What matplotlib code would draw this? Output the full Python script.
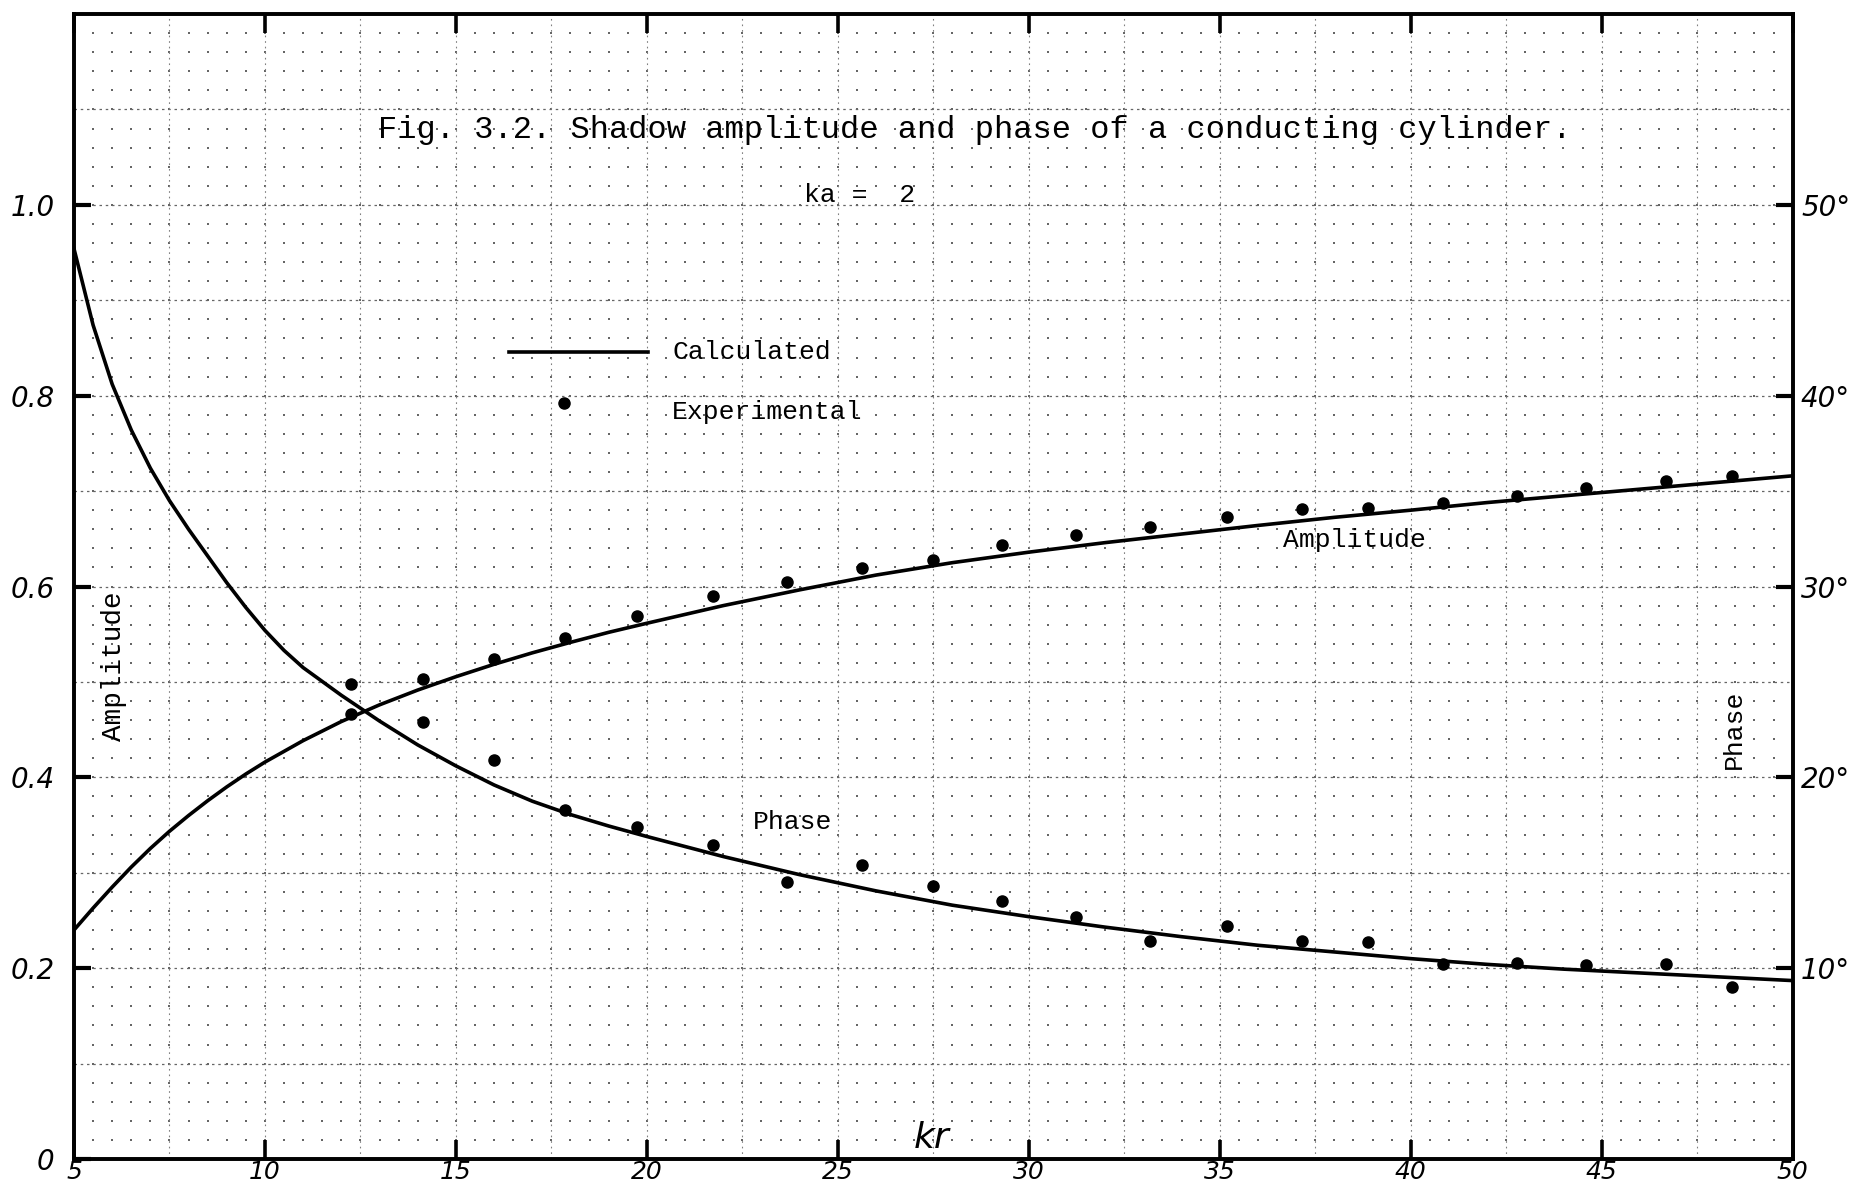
import numpy as np
import matplotlib
matplotlib.use("Agg")
import matplotlib.pyplot as plt

# calculated curves: amplitude and phase (degrees) against kr
kr_amp = [5, 5.5, 6, 6.5, 7, 7.5, 8, 8.5, 9, 9.5, 10, 11, 12, 13, 14, 15, 16,
          17, 18, 19, 20, 22, 24, 26, 28, 30, 32, 34, 36, 38, 40, 42, 44, 46,
          48, 50]
amp_calc = [0.240, 0.263, 0.285, 0.306, 0.3255, 0.3435, 0.360, 0.3755, 0.390,
            0.4035, 0.416, 0.4385, 0.4585, 0.476, 0.4915, 0.5055, 0.5185,
            0.5305, 0.5415, 0.552, 0.5615, 0.580, 0.5965, 0.612, 0.625, 0.636,
            0.646, 0.655, 0.664, 0.6725, 0.680, 0.688, 0.695, 0.702, 0.709,
            0.716]

kr_phase = [5, 5.5, 6, 6.5, 7, 7.5, 8, 8.5, 9, 9.5, 10, 10.5, 11, 12, 13, 14,
            15, 16, 17, 18, 19, 20, 22, 24, 26, 28, 30, 32, 34, 36, 38, 40, 42,
            44, 46, 48, 50]
phase_calc = [47.7, 43.7, 40.6, 38.2, 36.2, 34.5, 33.0, 31.6, 30.2, 28.9,
              27.7, 26.65, 25.75, 24.3, 22.95, 21.7, 20.6, 19.6, 18.75, 18.05,
              17.45, 16.9, 15.85, 14.9, 14.05, 13.3, 12.7, 12.15, 11.65, 11.2,
              10.85, 10.5, 10.2, 9.95, 9.75, 9.55, 9.35]

# experimental points
kr_exp = [12.26, 14.15, 16.0, 17.86, 19.75, 21.73, 23.66, 25.63, 27.49, 29.29,
          31.24, 33.18, 35.18, 37.16, 38.87, 40.84, 42.78, 44.58, 46.68, 48.41]
amp_exp = [0.4665, 0.5028, 0.5237, 0.5458, 0.5693, 0.590, 0.605, 0.6198,
           0.628, 0.643, 0.6535, 0.6628, 0.6729, 0.681, 0.6822, 0.6878,
           0.6953, 0.7028, 0.7103, 0.716]
phase_exp = [24.9, 22.9, 20.9, 18.3, 17.4, 16.45, 14.5, 15.4, 14.3, 13.5,
             12.7, 11.4, 12.2, 11.45, 11.35, 10.2, 10.25, 10.15, 10.2, 9.0]

x_ticks = [5, 10, 15, 20, 25, 30, 35, 40, 45, 50]
amp_ticks = [0, 0.2, 0.4, 0.6, 0.8, 1.0]
amp_labels = ["0", "0.2", "0.4", "0.6", "0.8", "1.0"]
phase_ticks = [10, 20, 30, 40, 50]
phase_labels = ["10°", "20°", "30°", "40°", "50°"]

mono = "Liberation Mono"
hand = {"family": "DejaVu Sans", "style": "italic"}

fig = plt.figure(figsize=(18.5, 11.88), dpi=100)
ax = fig.add_axes([0.04, 0.0244, 0.929, 0.9638])
ax.set_xlim(5, 50)
ax.set_ylim(0, 1.2)

# graph paper: dots every 0.5 x 0.02, dashed rules every 0.1 and every 2.5
gx, gy = np.meshgrid(np.arange(5, 50.01, 0.5), np.arange(0, 1.2001, 0.02))
ax.scatter(gx.ravel(), gy.ravel(), s=1.2, c="0.4", marker="s",
           linewidths=0, zorder=0)
for yv in np.arange(0.1, 1.2, 0.1):
    ax.axhline(yv, color="0.4", lw=0.9, ls=(0, (2, 3)), zorder=0)
for xv in np.arange(7.5, 50, 2.5):
    ax.axvline(xv, color="0.5", lw=0.8, ls=(0, (1.5, 3.5)), zorder=0)

for s in ax.spines.values():
    s.set_linewidth(2.6)

ax.plot(kr_amp, amp_calc, color="black", lw=2.6, zorder=3)
ax.plot(kr_exp, amp_exp, "o", color="black", ms=8, zorder=4)

ax.set_xticks(x_ticks)
ax.set_xticklabels([str(v) for v in x_ticks], fontdict=hand, fontsize=18)
ax.set_yticks(amp_ticks)
ax.set_yticklabels(amp_labels, fontdict=hand, fontsize=20)
ax.tick_params(axis="x", direction="in", length=14, width=2.6, pad=0.5,
               top=True)
ax.tick_params(axis="y", direction="in", length=12, width=3, pad=14)

ax2 = ax.twinx()
ax2.set_ylim(0, 60)
ax2.plot(kr_phase, phase_calc, color="black", lw=2.6, zorder=3)
ax2.plot(kr_exp, phase_exp, "o", color="black", ms=8, zorder=4)
ax2.set_yticks(phase_ticks)
ax2.set_yticklabels(phase_labels, fontdict=hand, fontsize=20)
ax2.tick_params(axis="y", direction="in", length=12, width=3, pad=6)
for s in ax2.spines.values():
    s.set_linewidth(2.6)

# title block
ax.text(0.524, 0.899, "Fig. 3.2. Shadow amplitude and phase of a conducting cylinder.",
        transform=ax.transAxes, family=mono, fontsize=23, ha="center", va="center")
ax.text(0.457, 0.842, "ka =  2", transform=ax.transAxes, family=mono,
        fontsize=19, ha="center", va="center")

# key, drawn by hand
ax.plot([0.253, 0.334], [0.705, 0.705], transform=ax.transAxes,
        color="black", lw=2.6)
ax.plot([0.285], [0.66], "o", transform=ax.transAxes, color="black", ms=8)
ax.text(0.348, 0.705, "Calculated", transform=ax.transAxes, family=mono,
        fontsize=19, va="center")
ax.text(0.348, 0.652, "Experimental", transform=ax.transAxes, family=mono,
        fontsize=19, va="center")

# curve and axis names
ax.text(0.745, 0.541, "Amplitude", transform=ax.transAxes, family=mono,
        fontsize=19, ha="center", va="center")
ax.text(0.418, 0.294, "Phase", transform=ax.transAxes, family=mono,
        fontsize=19, ha="center", va="center")
ax.text(0.023, 0.43, "Amplitude", transform=ax.transAxes, family=mono,
        fontsize=20, rotation=90, ha="center", va="center")
ax.text(0.966, 0.375, "Phase", transform=ax.transAxes, family=mono,
        fontsize=19, rotation=90, ha="center", va="center")
ax.text(0.499, 0.018, "kr", transform=ax.transAxes, fontdict=hand,
        fontsize=26, ha="center", va="center")

fig.savefig("out.png", dpi=100)
